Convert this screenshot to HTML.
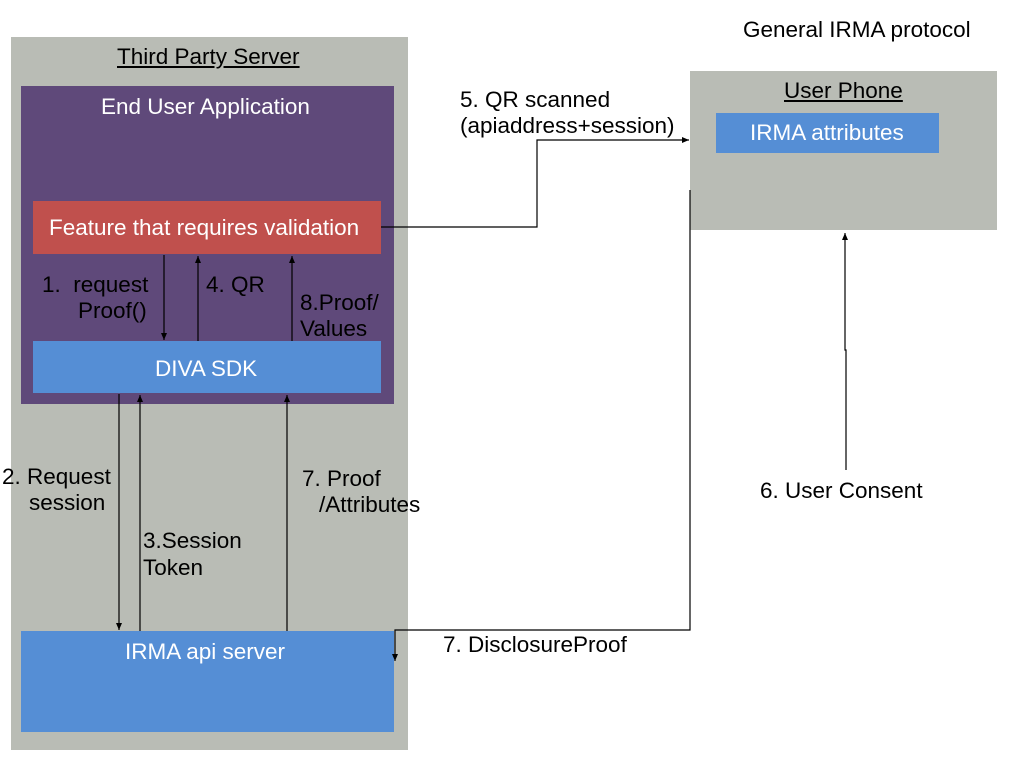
<!DOCTYPE html>
<html><head><style>
body{margin:0;width:1017px;height:763px;background:#fff;position:relative;overflow:hidden;font-family:"Liberation Sans",sans-serif;}
.b{position:absolute}
.t{position:absolute;font-size:22.5px;color:#000;white-space:nowrap;line-height:26px}
.w{color:#fff}
</style></head><body>
<div class="b" style="left:11px;top:37px;width:397px;height:713px;background:#b9bcb5"></div>
<div class="b" style="left:21px;top:86px;width:373px;height:318px;background:#5f497a"></div>
<div class="b" style="left:33px;top:201px;width:348px;height:53px;background:#c0504d"></div>
<div class="b" style="left:33px;top:341px;width:348px;height:52px;background:#558ed5"></div>
<div class="b" style="left:21px;top:631px;width:373px;height:101px;background:#558ed5"></div>
<div class="b" style="left:690px;top:71px;width:307px;height:159px;background:#b9bcb5"></div>
<div class="b" style="left:716px;top:113px;width:223px;height:40px;background:#558ed5"></div>

<div class="t" style="left:117px;top:44px;text-decoration:underline">Third Party Server</div>
<div class="t w" style="left:101px;top:94px">End User Application</div>
<div class="t w" style="left:49px;top:215px">Feature that requires validation</div>
<div class="t w" style="left:155px;top:356px">DIVA SDK</div>
<div class="t w" style="left:125px;top:639px">IRMA api server</div>
<div class="t" style="left:743px;top:17px">General IRMA protocol</div>
<div class="t" style="left:784px;top:78px;text-decoration:underline">User Phone</div>
<div class="t w" style="left:750px;top:120px">IRMA attributes</div>
<div class="t" style="left:42px;top:272px">1.&nbsp;&nbsp;request</div>
<div class="t" style="left:78px;top:298px">Proof()</div>
<div class="t" style="left:206px;top:272px">4. QR</div>
<div class="t" style="left:300px;top:290px">8.Proof/</div>
<div class="t" style="left:300px;top:316px">Values</div>
<div class="t" style="left:2px;top:464px">2. Request</div>
<div class="t" style="left:29px;top:490px">session</div>
<div class="t" style="left:143px;top:528px">3.Session</div>
<div class="t" style="left:143px;top:555px">Token</div>
<div class="t" style="left:302px;top:466px">7. Proof</div>
<div class="t" style="left:319px;top:492px">/Attributes</div>
<div class="t" style="left:460px;top:87px">5. QR scanned</div>
<div class="t" style="left:460px;top:113px">(apiaddress+session)</div>
<div class="t" style="left:443px;top:632px">7. DisclosureProof</div>
<div class="t" style="left:760px;top:478px">6. User Consent</div>

<svg class="b" style="left:0;top:0" width="1017" height="763">
<defs><marker id="a" markerWidth="8" markerHeight="8" refX="7" refY="4" orient="auto" markerUnits="userSpaceOnUse"><path d="M0,1L7,4L0,7z" fill="#000"/></marker></defs>
<g stroke="#000" stroke-width="1.2" fill="none" marker-end="url(#a)">
<path d="M164,255V340"/>
<path d="M198,341V256"/>
<path d="M292,341V256"/>
<path d="M119,394V630"/>
<path d="M140,631V395"/>
<path d="M287,631V395"/>
<path d="M381,227H537V140H689"/>
<path d="M690,190V630H395V661"/>
<path d="M846,470V350H845V233"/>
</g>
</svg>
</body></html>
